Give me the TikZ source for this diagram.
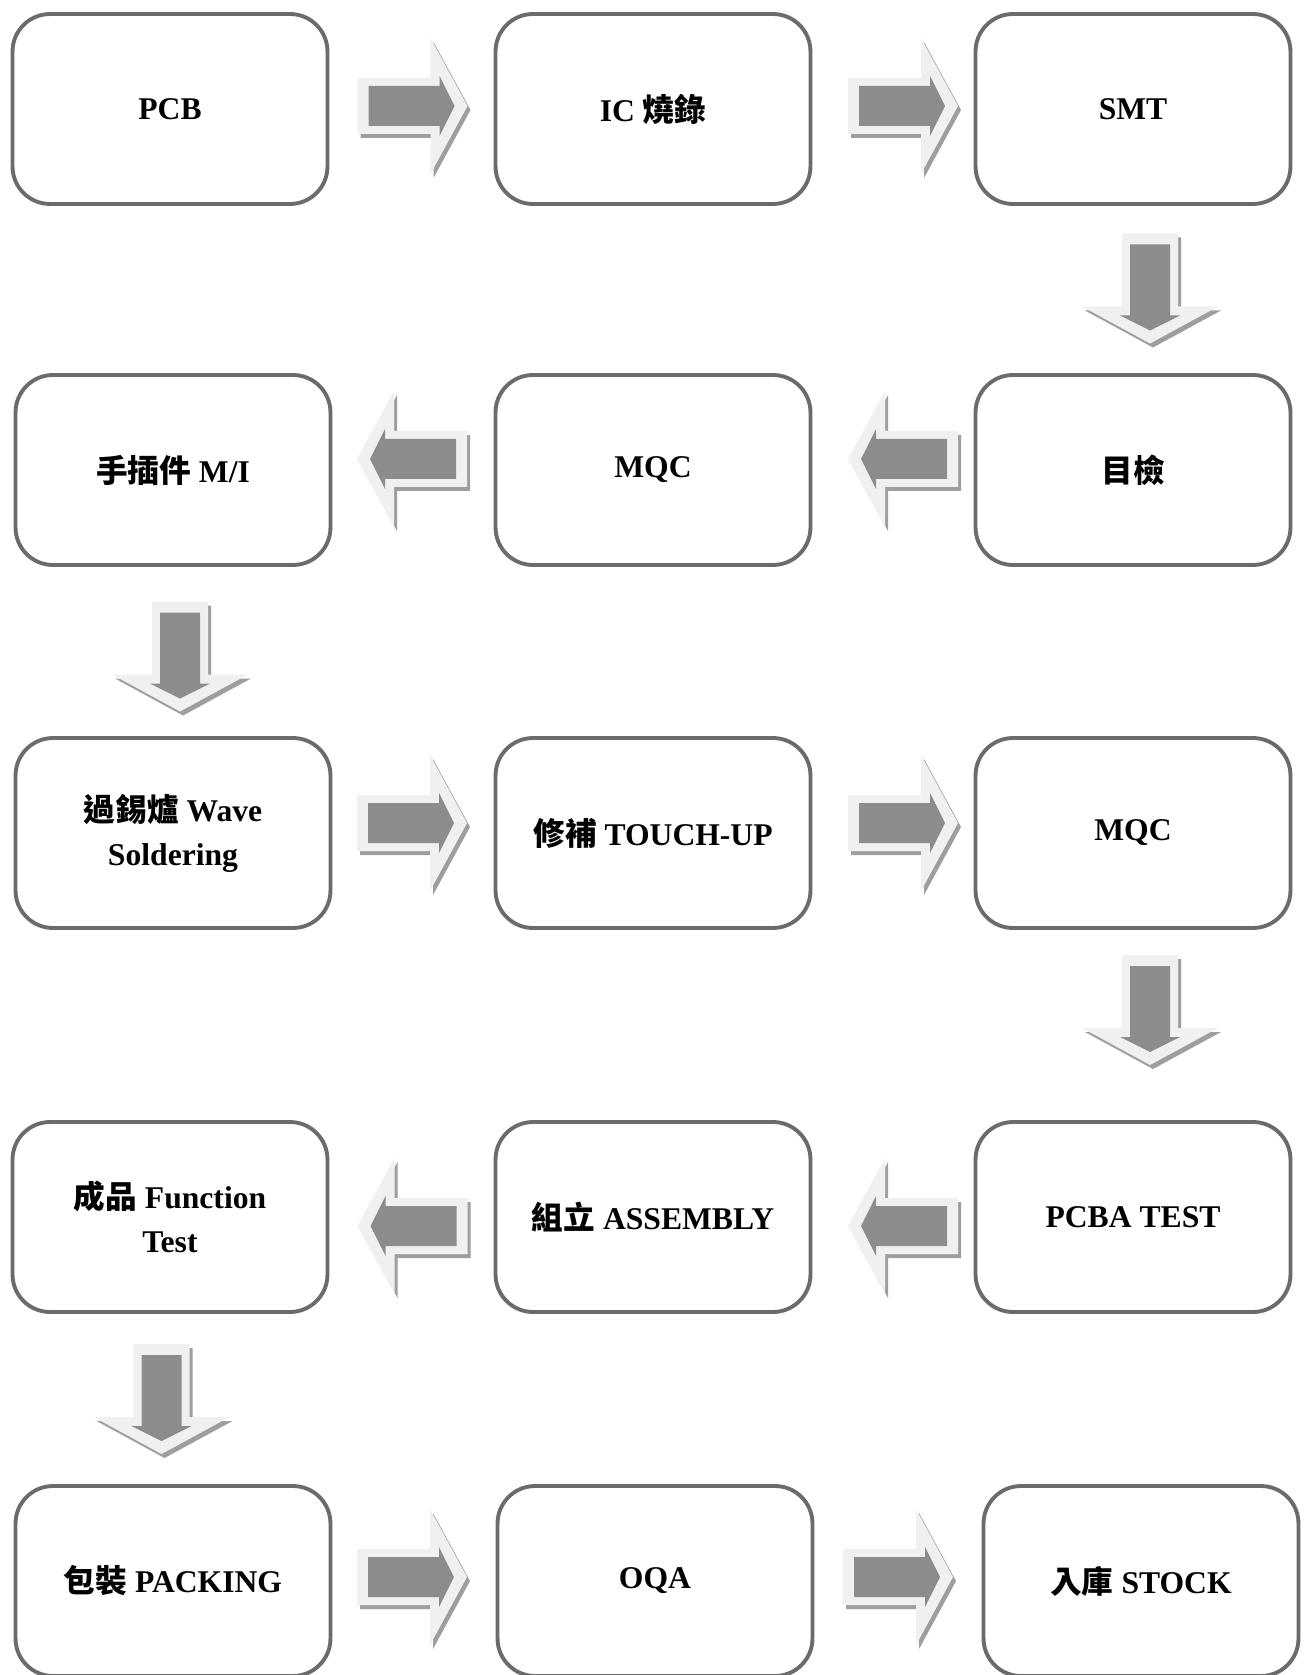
\documentclass[tikz,border=0pt]{standalone}
\usepackage{fontspec}
\setmainfont{Liberation Serif}
\newfontfamily\cjk{Noto Sans CJK TC}
\usetikzlibrary{calc}

\definecolor{boxline}{gray}{0.42}
\definecolor{arrowdark}{gray}{0.55}
\definecolor{arrowlight}{gray}{0.94}
\definecolor{arrowshade}{gray}{0.62}

\tikzstyle{stepnode}=[draw=boxline,line width=2.2pt,rounded corners=0.75cm,minimum width=6.3cm,minimum height=3.8cm,align=center,font=\fontsize{18}{25}\selectfont\bfseries]

\tikzset{
  pics/flowarrow/.style={code={
    \fill[arrowshade,shift={(3,4)},rotate=#1] (-55,-28) -- (18,-28) -- (18,-68) -- (55,0) -- (18,68) -- (18,28) -- (-55,28) -- cycle;
    \fill[arrowlight,rotate=#1] (-55,-28) -- (18,-28) -- (18,-68) -- (55,0) -- (18,68) -- (18,28) -- (-55,28) -- cycle;
    \fill[arrowdark,rotate=#1] (-44,-20) -- (27,-20) -- (27,-30) -- (42,0) -- (27,30) -- (27,20) -- (-44,20) -- cycle;
  }}
}

\begin{document}
\begin{tikzpicture}[x=0.02cm,y=-0.02cm]
      \useasboundingbox[fill=white] (0,0) rectangle (1306,1675);

      %% process steps
      \foreach \nodename/\x/\y/\caption in {
        pcb/170/109/PCB, ic/653/109/{IC {\cjk 燒錄}}, smt/1133/109/SMT,
        check/1133/470/{\cjk 目檢}, mqca/653/470/MQC, manual/173/470/{{\cjk 手插件} M/I},
        wave/173/833/{{\cjk 過錫爐} Wave\\Soldering}, touch/653/833/{{\cjk 修補} TOUCH-UP}, mqcb/1133/833/MQC,
        pcbatest/1133/1217/{PCBA TEST}, assembly/653/1217/{{\cjk 組立} ASSEMBLY}, functest/170/1217/{{\cjk 成品} Function\\Test},
        packing/173/1581/{{\cjk 包裝} PACKING}, oqa/655/1581/OQA, stock/1141/1581/{{\cjk 入庫} STOCK}}
      {
        \node (\nodename) at (\x,\y) [stepnode] {\caption};
      }

      %% block arrows between steps
      \foreach \startnode/\endnode/\angle/\dx/\dy in {
        pcb/ic/0/1/-3, ic/smt/0/10/-3, smt/check/-90/17/-1,
        check/mqca/180/10/-11, mqca/manual/180/-1/-11, manual/wave/-90/7/5,
        wave/touch/0/-1/-10, touch/mqcb/0/10/-10, mqcb/pcbatest/-90/17/-15,
        pcbatest/assembly/180/10/9, assembly/functest/180/1/9, functest/packing/-90/-10/0,
        packing/oqa/0/-2/-4, oqa/stock/0/0/-4}
      {
        \pic at ($(\startnode)!0.5!(\endnode)+(\dx,\dy)$) {flowarrow=\angle};
      }
\end{tikzpicture}
\end{document}
